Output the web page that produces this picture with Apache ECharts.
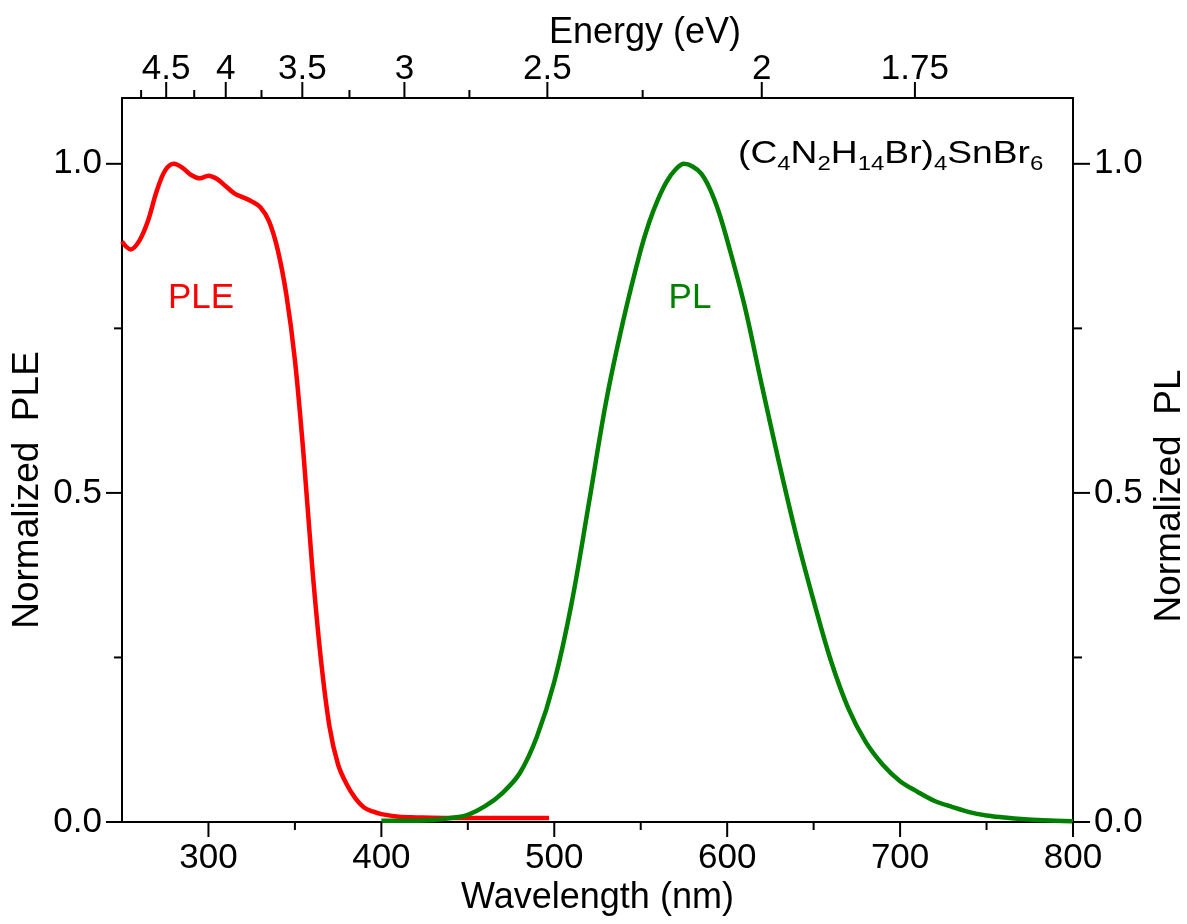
<!DOCTYPE html>
<html>
<head>
<meta charset="utf-8">
<script src="https://cdn.jsdelivr.net/npm/echarts@6/dist/echarts.min.js"></script>
<style>
  html, body { margin: 0; padding: 0; background: #fff; }
  #chart { width: 1187px; height: 924px; }
</style>
</head>
<body>
<div id="chart"></div>
<script>
// ---- data ----
const pleWavelength = [250, 255, 260, 265, 270, 275, 280, 285, 290, 295, 300, 305, 310, 315, 320, 325, 330, 335, 340, 345, 350, 355, 360, 365, 370, 375, 380, 385, 390, 395, 400, 410, 420, 440, 460, 497];
const pleValue = [0.882, 0.870, 0.883, 0.913, 0.958, 0.990, 1.0, 0.994, 0.983, 0.978, 0.982, 0.977, 0.966, 0.955, 0.949, 0.943, 0.934, 0.913, 0.870, 0.802, 0.702, 0.558, 0.388, 0.248, 0.145, 0.087, 0.057, 0.036, 0.022, 0.016, 0.012, 0.008, 0.007, 0.006, 0.006, 0.006];

const plWavelength = [400, 410, 420, 430, 440, 450, 460, 470, 480, 490, 500, 510, 520, 530, 540, 550, 555, 560, 565, 570, 575, 580, 585, 590, 595, 600, 610, 620, 630, 640, 650, 660, 670, 680, 690, 700, 710, 720, 730, 740, 750, 760, 770, 780, 790, 800];
const plValue = [0.002, 0.002, 0.002, 0.003, 0.006, 0.011, 0.024, 0.044, 0.074, 0.130, 0.213, 0.332, 0.484, 0.639, 0.763, 0.869, 0.912, 0.946, 0.973, 0.991, 1.0, 0.996, 0.985, 0.962, 0.928, 0.884, 0.785, 0.664, 0.546, 0.435, 0.336, 0.245, 0.173, 0.122, 0.087, 0.062, 0.046, 0.032, 0.023, 0.015, 0.010, 0.007, 0.0045, 0.003, 0.002, 0.001];

const wavelengthMajorTicks = [300, 400, 500, 600, 700, 800];
const wavelengthMinorTicks = [350, 450, 550, 650, 750];
const energyMajorTicks = [4.5, 4, 3.5, 3, 2.5, 2, 1.75];
const energyMinorTicks = [4.75, 4.25, 3.75, 3.25, 2.75, 2.25];
const yMajorTicks = [0, 0.5, 1.0];
const yMinorTicks = [0.25, 0.75];

const HC = 1240; // eV*nm
const FONT = "'Liberation Sans', Arial, Helvetica, sans-serif";
const X_MIN = 250, X_MAX = 800, Y_MIN = 0, Y_MAX = 1.1;
const MAJOR_LEN = 15, MINOR_LEN = 8;

function zip(xs, ys) { return xs.map((x, i) => [x, ys[i]]); }
const eToWl = e => HC / e;
const energyMajorWl = energyMajorTicks.map(eToWl);
const energyMinorWl = energyMinorTicks.map(eToWl);

const black = '#000000';
const lineAxis = { show: true, onZero: false, lineStyle: { color: black, width: 2 } };
const noSplit = { show: false };

function xAxisDef(pos, labels, fmt, margin) {
  return {
    type: 'value', position: pos, min: X_MIN, max: X_MAX,
    axisLine: lineAxis,
    axisTick: { show: false },
    axisLabel: { show: true, customValues: labels, formatter: fmt, fontSize: 35, color: black, fontFamily: FONT, margin: margin },
    splitLine: noSplit
  };
}
function yAxisDef(pos, margin) {
  return {
    type: 'value', position: pos, min: Y_MIN, max: Y_MAX,
    axisLine: lineAxis,
    axisTick: { show: false },
    axisLabel: { show: true, customValues: yMajorTicks, formatter: v => Number(v).toFixed(1), fontSize: 35, color: black, fontFamily: FONT, margin: margin },
    splitLine: noSplit
  };
}

// outward ticks, positioned through the axes' own scales (api.coord)
const DIRS = { bottom: [0, 1], top: [0, -1], left: [-1, 0], right: [1, 0] };
function tickSeries(side, values, len) {
  const data = values.map(v => {
    if (side === 'bottom') return [v, Y_MIN];
    if (side === 'top') return [v, Y_MAX];
    if (side === 'left') return [X_MIN, v];
    return [X_MAX, v];
  });
  const d = DIRS[side];
  return {
    type: 'custom', xAxisIndex: 0, yAxisIndex: 0, clip: false, silent: true, z: 5,
    data: data,
    renderItem: function (params, api) {
      const p = api.coord([api.value(0), api.value(1)]);
      return {
        type: 'line',
        shape: { x1: p[0], y1: p[1], x2: p[0] + d[0] * len, y2: p[1] + d[1] * len },
        style: { stroke: black, lineWidth: 2 }
      };
    }
  };
}

const xBottom = xAxisDef('bottom', wavelengthMajorTicks, v => String(Math.round(v)), 19);
xBottom.name = 'Wavelength (nm)';
xBottom.nameLocation = 'middle';
xBottom.nameGap = 58;
xBottom.nameMoveOverlap = false;
xBottom.nameTextStyle = { fontSize: 36, color: black, fontFamily: FONT };

const xTop = xAxisDef('top', energyMajorWl, v => String(Number((HC / v).toFixed(2))), 11);

const chart = echarts.init(document.getElementById('chart'), null, { renderer: 'canvas' });
chart.setOption({
  backgroundColor: '#ffffff',
  animation: false,
  grid: { left: 122, right: 114, top: 98, bottom: 102, containLabel: false, outerBoundsMode: 'none' },
  xAxis: [xBottom, xTop],
  yAxis: [yAxisDef('left', 20), yAxisDef('right', 21)],
  series: [
    {
      name: 'PLE', type: 'line', xAxisIndex: 0, yAxisIndex: 0,
      data: zip(pleWavelength, pleValue),
      showSymbol: false, symbol: 'none', smooth: 0.35,
      lineStyle: { color: '#ff0000', width: 4.5 }, clip: false, z: 2
    },
    {
      name: 'PL', type: 'line', xAxisIndex: 0, yAxisIndex: 1,
      data: zip(plWavelength, plValue),
      showSymbol: false, symbol: 'none', smooth: 0.35,
      lineStyle: { color: '#008000', width: 4.5 }, clip: false, z: 3
    },
    tickSeries('bottom', wavelengthMajorTicks, MAJOR_LEN),
    tickSeries('bottom', wavelengthMinorTicks, MINOR_LEN),
    tickSeries('top', energyMajorWl, MAJOR_LEN + 1),
    tickSeries('top', energyMinorWl, MINOR_LEN),
    tickSeries('left', yMajorTicks, MAJOR_LEN + 1),
    tickSeries('left', yMinorTicks, MINOR_LEN),
    tickSeries('right', yMajorTicks, MAJOR_LEN + 2),
    tickSeries('right', yMinorTicks, MINOR_LEN + 1)
  ],
  graphic: [
    { type: 'text', x: 645, y: 33, style: { text: 'Energy (eV)', fontSize: 36, fontFamily: FONT, fill: black, align: 'center', verticalAlign: 'middle' } },
    { type: 'text', x: 28, y: 490, rotation: Math.PI / 2, style: { text: 'Normalized  PLE', fontSize: 37, fontFamily: FONT, fill: black, align: 'center', verticalAlign: 'middle' } },
    { type: 'text', x: 1170, y: 496, rotation: Math.PI / 2, style: { text: 'Normalized  PL', fontSize: 37, fontFamily: FONT, fill: black, align: 'center', verticalAlign: 'middle' } },
    { type: 'text', x: 201, y: 298, style: { text: 'PLE', fontSize: 35, fontFamily: FONT, fill: '#ff0000', align: 'center', verticalAlign: 'middle' } },
    { type: 'text', x: 690, y: 298, style: { text: 'PL', fontSize: 35, fontFamily: FONT, fill: '#008000', align: 'center', verticalAlign: 'middle' } },
    {
      type: 'text', x: 738, y: 134, scaleX: 1.2,
      style: {
        text: '{m|(C}{s|4}{m|N}{s|2}{m|H}{s|14}{m|Br)}{s|4}{m|SnBr}{s|6}',
        fontFamily: FONT, fill: black, align: 'left', verticalAlign: 'top',
        rich: {
          m: { fontSize: 31, lineHeight: 40, verticalAlign: 'middle', fontFamily: FONT, fill: black },
          s: { fontSize: 20, lineHeight: 14, verticalAlign: 'bottom', fontFamily: FONT, fill: black }
        }
      }
    }
  ]
});
</script>
</body>
</html>
